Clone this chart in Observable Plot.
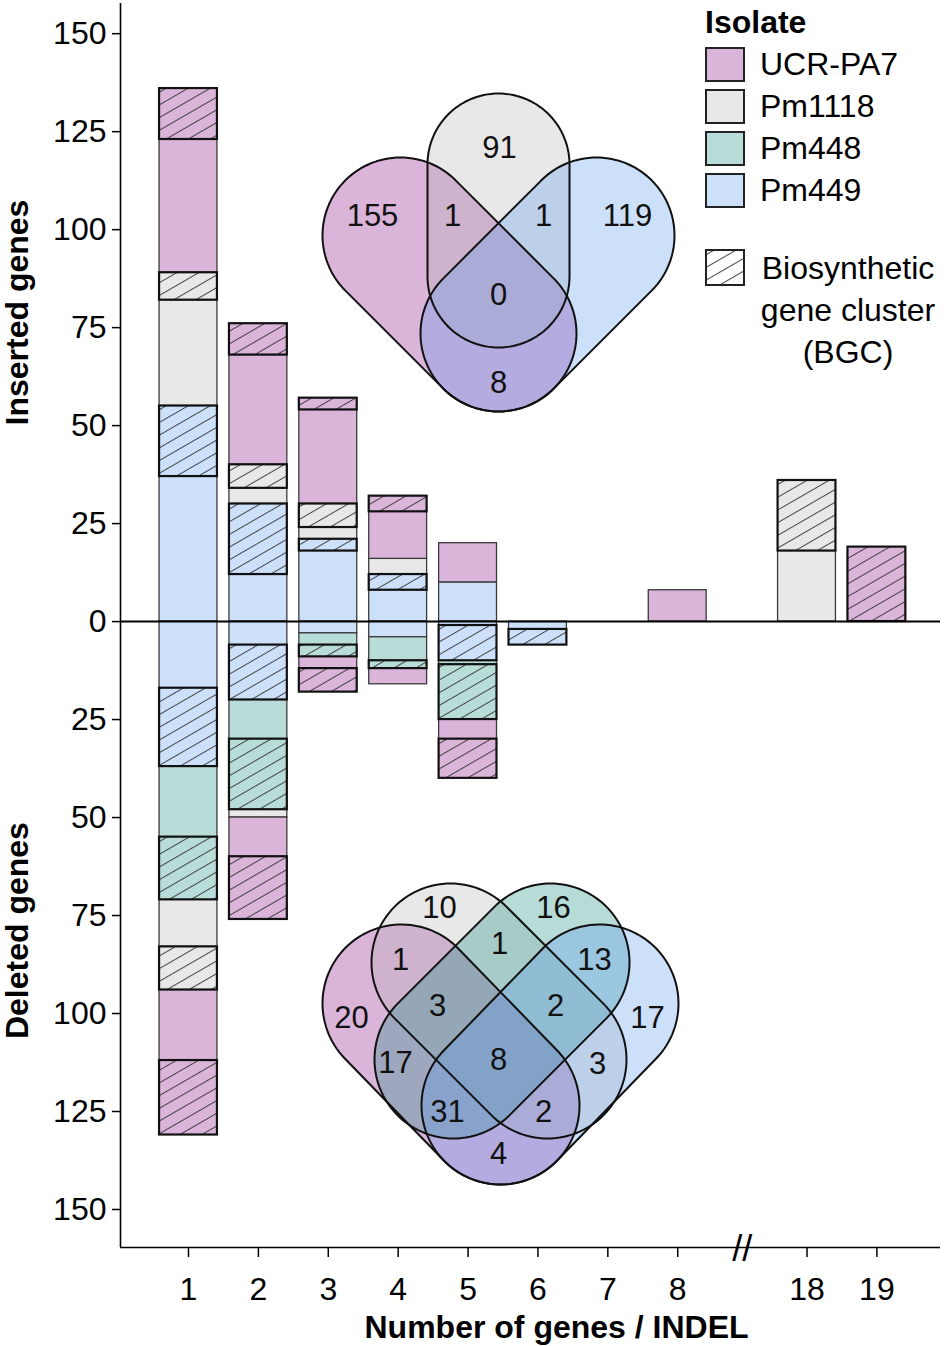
<!DOCTYPE html>
<html>
<head>
<meta charset="utf-8">
<script src="https://cdn.jsdelivr.net/npm/d3@7"></script>
<script src="https://cdn.jsdelivr.net/npm/@observablehq/plot@0.6"></script>
<style>
  body { margin: 0; background: #fff; font-family: "Liberation Sans", Arial, sans-serif; }
  #wrap { position: relative; width: 944px; height: 1346px; overflow: hidden; }
  #wrap > .layer { position: absolute; left: 0; top: 0; }
  #legend { position: absolute; left: 705px; top: 0; width: 239px; color: #000; font-size: 32px; }
  #legend .title { position: absolute; left: 0; top: 4px; font-weight: bold; line-height: 36px; }
  #legend .sw { position: absolute; left: 0; width: 40px; height: 35px; box-sizing: border-box; border: 2px solid #222; }
  #legend .lab { position: absolute; left: 55px; line-height: 35px; white-space: nowrap; }
  #legend .bgc { position: absolute; left: 50px; width: 186px; text-align: center; line-height: 42px; }
</style>
</head>
<body>
<div id="wrap"></div>
<script>
// ---------------- data ----------------
const sizes = [1, 2, 3, 4, 5, 6, 7, 8, 18, 19];                 // number of genes per INDEL
const isolates = ["Pm449", "Pm448", "Pm1118", "UCR-PA7"];       // stacking order from zero outward
const legendOrder = ["UCR-PA7", "Pm1118", "Pm448", "Pm449"];
const isolateColors = ["#cde0fa", "#b8dcd8", "#e8e8e8", "#dbb4da"];
const vennBaseColors = ["rgb(88,152,238)", "rgb(18,138,125)", "rgb(178,178,178)", "rgb(135,5,132)"]; // at 30% opacity

// inserted genes (plain / in biosynthetic gene cluster)
const insPm449     = [37, 12, 18, 8, 10, 0, 0, 0, 0, 0];
const insPm449Bgc  = [18, 18, 3, 4, 0, 0, 0, 0, 0, 0];
const insPm448     = [0, 0, 0, 0, 0, 0, 0, 0, 0, 0];
const insPm448Bgc  = [0, 0, 0, 0, 0, 0, 0, 0, 0, 0];
const insPm1118    = [27, 4, 3, 4, 0, 0, 0, 0, 18, 0];
const insPm1118Bgc = [7, 6, 6, 0, 0, 0, 0, 0, 18, 0];
const insUCR       = [34, 28, 24, 12, 10, 0, 0, 8, 0, 0];
const insUCRBgc    = [13, 8, 3, 4, 0, 0, 0, 0, 0, 19];

// deleted genes (plain / in biosynthetic gene cluster)
const delPm449     = [17, 6, 3, 4, 1, 2, 0, 0, 0, 0];
const delPm449Bgc  = [20, 14, 0, 0, 9, 4, 0, 0, 0, 0];
const delPm448     = [18, 10, 3, 6, 1, 0, 0, 0, 0, 0];
const delPm448Bgc  = [16, 18, 3, 2, 14, 0, 0, 0, 0, 0];
const delPm1118    = [12, 2, 0, 0, 0, 0, 0, 0, 0, 0];
const delPm1118Bgc = [11, 0, 0, 0, 0, 0, 0, 0, 0, 0];
const delUCR       = [18, 10, 3, 4, 5, 0, 0, 0, 0, 0];
const delUCRBgc    = [19, 16, 6, 0, 10, 0, 0, 0, 0, 0];

const yTicks = [-150, -125, -100, -75, -50, -25, 0, 25, 50, 75, 100, 125, 150];

// Venn counts
const insVennCounts = [155, 1, 91, 1, 119, 0, 8];
const delVennCounts = [10, 16, 1, 1, 13, 20, 3, 2, 17, 17, 8, 3, 31, 2, 4];

// ---------------- layout (inset geometry) ----------------
const insVennShapes = [
  {set: "UCR-PA7", c1: [400, 235], c2: [498, 333], r: 78},
  {set: "Pm1118",  c1: [498, 164], c2: [498, 276], r: 71},
  {set: "Pm449",   c1: [596, 235], c2: [498, 333], r: 78}
];
const insVennLabelPos = [[372, 216], [452, 216], [499, 148], [543, 216], [627, 216], [498, 295], [498, 383]];
const delVennShapes = [
  {set: "UCR-PA7", c1: [401, 1003], c2: [500, 1105], r: 79},
  {set: "Pm1118",  c1: [450, 962],  c2: [547, 1059], r: 79},
  {set: "Pm448",   c1: [550, 962],  c2: [453, 1059], r: 79},
  {set: "Pm449",   c1: [599, 1003], c2: [500, 1105], r: 79}
];
const delVennLabelPos = [[439, 908], [553, 908], [400, 960], [499, 944], [594, 960], [351, 1018], [437, 1006],
  [555, 1006], [647, 1018], [395, 1063], [498, 1060], [597, 1064], [447, 1112], [543, 1112], [498, 1154]];

// broken x axis: sizes after the gap are shifted left
const gapFrom = 8, gapTo = 18, gapSteps = 1.85;
const xPos = s => s <= gapFrom ? s : gapFrom + gapSteps + (s - gapTo);

// ---------------- build segments ----------------
const insSeries = [[insPm449, insPm449Bgc], [insPm448, insPm448Bgc], [insPm1118, insPm1118Bgc], [insUCR, insUCRBgc]];
const delSeries = [[delPm449, delPm449Bgc], [delPm448, delPm448Bgc], [delPm1118, delPm1118Bgc], [delUCR, delUCRBgc]];
const segs = [];
sizes.forEach((s, i) => {
  for (const [sign, series] of [[1, insSeries], [-1, delSeries]]) {
    let acc = 0;
    series.forEach(([plain, bgc], k) => {
      for (const [arr, isBgc] of [[plain, false], [bgc, true]]) {
        const v = arr[i];
        if (v > 0) {
          segs.push({size: s, isolate: isolates[k], bgc: isBgc, y1: sign * acc, y2: sign * (acc + v)});
          acc += v;
        }
      }
    });
  }
});
const plainSegs = segs.filter(d => !d.bgc);
const bgcSegs = segs.filter(d => d.bgc);

const FONT = '"Liberation Sans", Arial, sans-serif';
const yDomain = [-159.7, 157.7];
const xDomain = [0.027, 11.76];
const barX = {x1: d => xPos(d.size) - 0.5, x2: d => xPos(d.size) + 0.5, y1: "y1", y2: "y2", insetLeft: 6, insetRight: 6};
const posToLabel = new Map(sizes.map(s => [xPos(s), String(s)]));

const main = Plot.plot({
  width: 944, height: 1346,
  marginTop: 3, marginBottom: 99, marginLeft: 120, marginRight: 4,
  style: {fontFamily: FONT, fontSize: "32px", color: "#000", background: "transparent"},
  x: {type: "linear", domain: xDomain},
  y: {type: "linear", domain: yDomain},
  color: {domain: isolates, range: isolateColors},
  marks: [
    Plot.rect(plainSegs, {...barX, fill: "isolate", stroke: "#3a3a3a", strokeWidth: 1.3}),
    Plot.rect(bgcSegs, {...barX, fill: "isolate"}),
    Plot.rect(bgcSegs, {...barX, fill: "url(#hatch)", stroke: "#111", strokeWidth: 2.2}),
    Plot.ruleY([0], {strokeWidth: 2}),
    Plot.ruleX([xDomain[0]], {y1: yDomain[0], y2: yDomain[1], strokeWidth: 1.6}),
    Plot.ruleY([yDomain[0]], {strokeWidth: 1.6}),
    Plot.axisY({ticks: yTicks, tickFormat: d => Math.abs(d), tickSize: 8, tickPadding: 6, strokeWidth: 1.5, label: null}),
    Plot.axisX({ticks: sizes.map(xPos), tickFormat: p => posToLabel.get(p), tickSize: 10, tickPadding: 20, strokeWidth: 1.5, label: null}),
    Plot.text([{x: (xPos(gapFrom) + xPos(gapTo)) / 2}], {x: "x", y: () => yDomain[0], text: () => "//", fontSize: 36, dy: 2}),
    Plot.text([{t: "Inserted genes", s: 1}, {t: "Deleted genes", s: -1}], {
      frameAnchor: "left", y: d => d.s * yDomain[1] / 2, text: "t", rotate: -90,
      dx: -103, textAnchor: "middle", fontWeight: "bold", fontSize: 32
    }),
    Plot.text(["Number of genes / INDEL"], {frameAnchor: "bottom", lineAnchor: "middle", dx: 26, dy: 80, fontWeight: "bold", fontSize: 32})
  ]
});
main.classList.add("layer");

// hatch pattern
const defs = d3.select(main).insert("defs", ":first-child");
const pat = defs.append("pattern").attr("id", "hatch").attr("patternUnits", "userSpaceOnUse")
  .attr("width", 11).attr("height", 11).attr("patternTransform", "rotate(-30)");
pat.append("path").attr("d", "M-1,5.5H12").attr("stroke", "#333").attr("stroke-width", 0.9);

// ---------------- Venn insets ----------------
function capsule(c1, c2, r, n = 60) {
  const [x1, y1] = c1, [x2, y2] = c2;
  const a = Math.atan2(y2 - y1, x2 - x1);
  const ring = [];
  for (let i = 0; i <= n; i++) { const t = a + Math.PI / 2 + Math.PI * i / n; ring.push([x1 + r * Math.cos(t), y1 + r * Math.sin(t)]); }
  for (let i = 0; i <= n; i++) { const t = a - Math.PI / 2 + Math.PI * i / n; ring.push([x2 + r * Math.cos(t), y2 + r * Math.sin(t)]); }
  ring.push(ring[0]);
  return {type: "Polygon", coordinates: [ring]};
}
const colorOf = s => isolateColors[isolates.indexOf(s)];
const vennColorOf = s => vennBaseColors[isolates.indexOf(s)];
const drawOrder = ["UCR-PA7", "Pm1118", "Pm448", "Pm449"];
const byDraw = (a, b) => drawOrder.indexOf(a.set) - drawOrder.indexOf(b.set);
const shapesSorted = [...insVennShapes.slice().sort(byDraw), ...delVennShapes.slice().sort(byDraw)];
const vennLabels = [
  ...insVennCounts.map((n, i) => ({n, x: insVennLabelPos[i][0], y: insVennLabelPos[i][1]})),
  ...delVennCounts.map((n, i) => ({n, x: delVennLabelPos[i][0], y: delVennLabelPos[i][1]}))
];

const venn = Plot.plot({
  width: 944, height: 1346, margin: 0,
  projection: d3.geoIdentity(),
  color: {type: "identity"},
  style: {fontFamily: FONT, fontSize: "31px", background: "transparent", overflow: "visible", pointerEvents: "none"},
  marks: [
    Plot.geo(shapesSorted, {geometry: d => capsule(d.c1, d.c2, d.r), fill: d => vennColorOf(d.set), fillOpacity: 0.3}),
    Plot.geo(shapesSorted, {geometry: d => capsule(d.c1, d.c2, d.r), fill: "none", stroke: "#111", strokeWidth: 2}),
    Plot.text(vennLabels, {x: "x", y: "y", text: "n", fontSize: 31, fill: "#111"})
  ]
});
venn.classList.add("layer");

const wrap = document.getElementById("wrap");
wrap.appendChild(main);
wrap.appendChild(venn);

// ---------------- legend ----------------
const legend = document.createElement("div");
legend.id = "legend";
let html = `<div class="title">Isolate</div>`;
legendOrder.forEach((s, i) => {
  const top = 47 + i * 42;
  html += `<div class="sw" style="top:${top}px;background:${colorOf(s)}"></div>`;
  html += `<div class="lab" style="top:${top}px">${s}</div>`;
});
html += `<svg class="sw" style="top:249px;height:37px;border:none;overflow:visible" width="40" height="37">
  <rect x="1" y="1" width="38" height="35" fill="#fff"/>
  <rect x="1" y="1" width="38" height="35" fill="url(#hatch)" stroke="#222" stroke-width="2"/></svg>`;
html += `<div class="bgc" style="top:247px">Biosynthetic<br>gene cluster<br>(BGC)</div>`;
legend.innerHTML = html;
wrap.appendChild(legend);
</script>
</body>
</html>
